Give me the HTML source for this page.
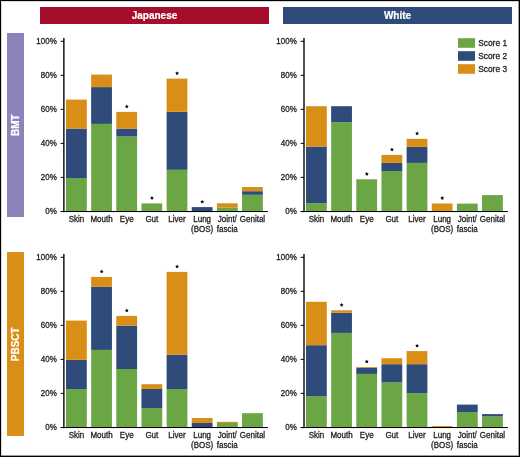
<!DOCTYPE html>
<html><head><meta charset="utf-8"><style>
html,body{margin:0;padding:0;background:#fff;}
#c{position:relative;will-change:transform;width:518px;height:455px;border:1px solid #000;background:#fff;overflow:hidden;box-shadow:inset 1px 1px 0 rgba(0,0,0,0.15),inset -1px -1px 0 rgba(0,0,0,0.38);}
svg{position:absolute;left:-1px;top:-1px;}
text{font-family:"Liberation Sans",sans-serif;}
.lb{font-size:8.6px;fill:#222;stroke:#222;stroke-width:0.3px;}
.lg{font-size:9px;fill:#222;stroke:#222;stroke-width:0.3px;}
.st{font-size:8px;fill:#000;}
.hd{font-size:10px;font-weight:bold;fill:#fff;stroke:#fff;stroke-width:0.2px;}
</style></head><body><div id="c"><svg width="520" height="457" viewBox="0 0 520 457">
<rect x="40.00" y="7.00" width="229.00" height="17.00" fill="#A50E2B"/>
<rect x="283.00" y="7.00" width="229.00" height="17.00" fill="#2E4B7A"/>
<text x="154.5" y="18.7" class="hd" text-anchor="middle">Japanese</text>
<text x="397.5" y="18.7" class="hd" text-anchor="middle">White</text>
<rect x="7.00" y="33.00" width="17.00" height="184.00" fill="#8B84B9"/>
<rect x="7.00" y="252.00" width="17.00" height="184.00" fill="#D98E17"/>
<text class="hd" text-anchor="middle" transform="translate(19.0,125.1) rotate(-90)">BMT</text>
<text class="hd" text-anchor="middle" transform="translate(19.0,344.3) rotate(-90)">PBSCT</text>
<rect x="66.00" y="178.10" width="20.80" height="33.30" fill="#6BA644"/>
<rect x="66.00" y="128.60" width="20.80" height="49.50" fill="#2E4B7A"/>
<rect x="66.00" y="99.60" width="20.80" height="29.00" fill="#D98E17"/>
<text transform="translate(76.40,221.70) scale(0.93,1)" text-anchor="middle" class="lb">Skin</text>
<rect x="91.15" y="123.90" width="20.80" height="87.50" fill="#6BA644"/>
<rect x="91.15" y="87.10" width="20.80" height="36.80" fill="#2E4B7A"/>
<rect x="91.15" y="74.60" width="20.80" height="12.50" fill="#D98E17"/>
<text transform="translate(101.55,221.70) scale(0.93,1)" text-anchor="middle" class="lb">Mouth</text>
<rect x="116.30" y="136.50" width="20.80" height="74.90" fill="#6BA644"/>
<rect x="116.30" y="128.60" width="20.80" height="7.90" fill="#2E4B7A"/>
<rect x="116.30" y="111.90" width="20.80" height="16.70" fill="#D98E17"/>
<polygon points="126.80,104.45 127.39,105.74 128.80,105.90 127.75,106.86 128.03,108.25 126.80,107.55 125.57,108.25 125.85,106.86 124.80,105.90 126.21,105.74" fill="#000"/>
<text transform="translate(126.70,221.70) scale(0.93,1)" text-anchor="middle" class="lb">Eye</text>
<rect x="141.45" y="203.40" width="20.80" height="8.00" fill="#6BA644"/>
<polygon points="151.95,195.95 152.54,197.24 153.95,197.40 152.90,198.36 153.18,199.75 151.95,199.05 150.72,199.75 151.00,198.36 149.95,197.40 151.36,197.24" fill="#000"/>
<text transform="translate(151.85,221.70) scale(0.93,1)" text-anchor="middle" class="lb">Gut</text>
<rect x="166.60" y="169.80" width="20.80" height="41.60" fill="#6BA644"/>
<rect x="166.60" y="111.80" width="20.80" height="58.00" fill="#2E4B7A"/>
<rect x="166.60" y="78.60" width="20.80" height="33.20" fill="#D98E17"/>
<polygon points="177.10,71.15 177.69,72.44 179.10,72.60 178.05,73.56 178.33,74.95 177.10,74.25 175.87,74.95 176.15,73.56 175.10,72.60 176.51,72.44" fill="#000"/>
<text transform="translate(177.00,221.70) scale(0.93,1)" text-anchor="middle" class="lb">Liver</text>
<rect x="191.75" y="207.10" width="20.80" height="4.30" fill="#2E4B7A"/>
<polygon points="202.25,199.65 202.84,200.94 204.25,201.10 203.20,202.06 203.48,203.45 202.25,202.75 201.02,203.45 201.30,202.06 200.25,201.10 201.66,200.94" fill="#000"/>
<text transform="translate(202.15,221.70) scale(0.93,1)" text-anchor="middle" class="lb">Lung</text>
<text transform="translate(202.15,231.80) scale(0.93,1)" text-anchor="middle" class="lb">(BOS)</text>
<rect x="216.90" y="207.40" width="20.80" height="4.00" fill="#6BA644"/>
<rect x="216.90" y="203.30" width="20.80" height="4.10" fill="#D98E17"/>
<text transform="translate(227.30,221.70) scale(0.93,1)" text-anchor="middle" class="lb">Joint/</text>
<text transform="translate(227.30,231.80) scale(0.93,1)" text-anchor="middle" class="lb">fascia</text>
<rect x="242.05" y="194.80" width="20.80" height="16.60" fill="#6BA644"/>
<rect x="242.05" y="191.20" width="20.80" height="3.60" fill="#2E4B7A"/>
<rect x="242.05" y="187.00" width="20.80" height="4.20" fill="#D98E17"/>
<text transform="translate(252.45,221.70) scale(0.93,1)" text-anchor="middle" class="lb">Genital</text>
<line x1="63.87" y1="38.10" x2="63.87" y2="211.90" stroke="#000" stroke-width="1.38"/>
<line x1="60.60" y1="211.50" x2="268.00" y2="211.50" stroke="#000" stroke-width="1.1"/>
<line x1="60.60" y1="212.60" x2="268.00" y2="212.60" stroke="#000" stroke-opacity="0.06" stroke-width="1"/>
<text transform="translate(56.80,214.20) scale(0.93,1)" text-anchor="end" class="lb">0%</text>
<line x1="60.60" y1="177.38" x2="64.00" y2="177.38" stroke="#000" stroke-width="1"/>
<text transform="translate(56.80,180.18) scale(0.93,1)" text-anchor="end" class="lb">20%</text>
<line x1="60.60" y1="143.36" x2="64.00" y2="143.36" stroke="#000" stroke-width="1"/>
<text transform="translate(56.80,146.16) scale(0.93,1)" text-anchor="end" class="lb">40%</text>
<line x1="60.60" y1="109.34" x2="64.00" y2="109.34" stroke="#000" stroke-width="1"/>
<text transform="translate(56.80,112.14) scale(0.93,1)" text-anchor="end" class="lb">60%</text>
<line x1="60.60" y1="75.32" x2="64.00" y2="75.32" stroke="#000" stroke-width="1"/>
<text transform="translate(56.80,78.12) scale(0.93,1)" text-anchor="end" class="lb">80%</text>
<line x1="60.60" y1="41.30" x2="64.00" y2="41.30" stroke="#000" stroke-width="1"/>
<text transform="translate(56.80,44.10) scale(0.93,1)" text-anchor="end" class="lb">100%</text>
<rect x="306.00" y="203.20" width="20.80" height="8.20" fill="#6BA644"/>
<rect x="306.00" y="146.60" width="20.80" height="56.60" fill="#2E4B7A"/>
<rect x="306.00" y="106.20" width="20.80" height="40.40" fill="#D98E17"/>
<text transform="translate(316.40,221.70) scale(0.93,1)" text-anchor="middle" class="lb">Skin</text>
<rect x="331.15" y="122.30" width="20.80" height="89.10" fill="#6BA644"/>
<rect x="331.15" y="106.20" width="20.80" height="16.10" fill="#2E4B7A"/>
<text transform="translate(341.55,221.70) scale(0.93,1)" text-anchor="middle" class="lb">Mouth</text>
<rect x="356.30" y="179.30" width="20.80" height="32.10" fill="#6BA644"/>
<polygon points="366.80,171.85 367.39,173.14 368.80,173.30 367.75,174.26 368.03,175.65 366.80,174.95 365.57,175.65 365.85,174.26 364.80,173.30 366.21,173.14" fill="#000"/>
<text transform="translate(366.70,221.70) scale(0.93,1)" text-anchor="middle" class="lb">Eye</text>
<rect x="381.45" y="171.00" width="20.80" height="40.40" fill="#6BA644"/>
<rect x="381.45" y="162.90" width="20.80" height="8.10" fill="#2E4B7A"/>
<rect x="381.45" y="154.90" width="20.80" height="8.00" fill="#D98E17"/>
<polygon points="391.95,147.45 392.54,148.74 393.95,148.90 392.90,149.86 393.18,151.25 391.95,150.55 390.72,151.25 391.00,149.86 389.95,148.90 391.36,148.74" fill="#000"/>
<text transform="translate(391.85,221.70) scale(0.93,1)" text-anchor="middle" class="lb">Gut</text>
<rect x="406.60" y="162.90" width="20.80" height="48.50" fill="#6BA644"/>
<rect x="406.60" y="146.90" width="20.80" height="16.00" fill="#2E4B7A"/>
<rect x="406.60" y="138.80" width="20.80" height="8.10" fill="#D98E17"/>
<polygon points="417.10,131.35 417.69,132.64 419.10,132.80 418.05,133.76 418.33,135.15 417.10,134.45 415.87,135.15 416.15,133.76 415.10,132.80 416.51,132.64" fill="#000"/>
<text transform="translate(417.00,221.70) scale(0.93,1)" text-anchor="middle" class="lb">Liver</text>
<rect x="431.75" y="203.50" width="20.80" height="7.90" fill="#D98E17"/>
<polygon points="442.25,196.05 442.84,197.34 444.25,197.50 443.20,198.46 443.48,199.85 442.25,199.15 441.02,199.85 441.30,198.46 440.25,197.50 441.66,197.34" fill="#000"/>
<text transform="translate(442.15,221.70) scale(0.93,1)" text-anchor="middle" class="lb">Lung</text>
<text transform="translate(442.15,231.80) scale(0.93,1)" text-anchor="middle" class="lb">(BOS)</text>
<rect x="456.90" y="203.60" width="20.80" height="7.80" fill="#6BA644"/>
<text transform="translate(467.30,221.70) scale(0.93,1)" text-anchor="middle" class="lb">Joint/</text>
<text transform="translate(467.30,231.80) scale(0.93,1)" text-anchor="middle" class="lb">fascia</text>
<rect x="482.05" y="195.10" width="20.80" height="16.30" fill="#6BA644"/>
<text transform="translate(492.45,221.70) scale(0.93,1)" text-anchor="middle" class="lb">Genital</text>
<line x1="304.00" y1="38.10" x2="304.00" y2="211.90" stroke="#000" stroke-width="1.38"/>
<line x1="300.60" y1="211.50" x2="508.00" y2="211.50" stroke="#000" stroke-width="1.1"/>
<line x1="300.60" y1="212.60" x2="508.00" y2="212.60" stroke="#000" stroke-opacity="0.06" stroke-width="1"/>
<text transform="translate(296.80,214.20) scale(0.93,1)" text-anchor="end" class="lb">0%</text>
<line x1="300.60" y1="177.38" x2="304.00" y2="177.38" stroke="#000" stroke-width="1"/>
<text transform="translate(296.80,180.18) scale(0.93,1)" text-anchor="end" class="lb">20%</text>
<line x1="300.60" y1="143.36" x2="304.00" y2="143.36" stroke="#000" stroke-width="1"/>
<text transform="translate(296.80,146.16) scale(0.93,1)" text-anchor="end" class="lb">40%</text>
<line x1="300.60" y1="109.34" x2="304.00" y2="109.34" stroke="#000" stroke-width="1"/>
<text transform="translate(296.80,112.14) scale(0.93,1)" text-anchor="end" class="lb">60%</text>
<line x1="300.60" y1="75.32" x2="304.00" y2="75.32" stroke="#000" stroke-width="1"/>
<text transform="translate(296.80,78.12) scale(0.93,1)" text-anchor="end" class="lb">80%</text>
<line x1="300.60" y1="41.30" x2="304.00" y2="41.30" stroke="#000" stroke-width="1"/>
<text transform="translate(296.80,44.10) scale(0.93,1)" text-anchor="end" class="lb">100%</text>
<rect x="66.00" y="389.00" width="20.80" height="38.40" fill="#6BA644"/>
<rect x="66.00" y="359.80" width="20.80" height="29.20" fill="#2E4B7A"/>
<rect x="66.00" y="320.60" width="20.80" height="39.20" fill="#D98E17"/>
<text transform="translate(76.40,437.70) scale(0.93,1)" text-anchor="middle" class="lb">Skin</text>
<rect x="91.15" y="349.90" width="20.80" height="77.50" fill="#6BA644"/>
<rect x="91.15" y="286.80" width="20.80" height="63.10" fill="#2E4B7A"/>
<rect x="91.15" y="276.90" width="20.80" height="9.90" fill="#D98E17"/>
<polygon points="101.65,269.45 102.24,270.74 103.65,270.90 102.60,271.86 102.88,273.25 101.65,272.55 100.42,273.25 100.70,271.86 99.65,270.90 101.06,270.74" fill="#000"/>
<text transform="translate(101.55,437.70) scale(0.93,1)" text-anchor="middle" class="lb">Mouth</text>
<rect x="116.30" y="369.00" width="20.80" height="58.40" fill="#6BA644"/>
<rect x="116.30" y="325.60" width="20.80" height="43.40" fill="#2E4B7A"/>
<rect x="116.30" y="315.90" width="20.80" height="9.70" fill="#D98E17"/>
<polygon points="126.80,308.45 127.39,309.74 128.80,309.90 127.75,310.86 128.03,312.25 126.80,311.55 125.57,312.25 125.85,310.86 124.80,309.90 126.21,309.74" fill="#000"/>
<text transform="translate(126.70,437.70) scale(0.93,1)" text-anchor="middle" class="lb">Eye</text>
<rect x="141.45" y="408.10" width="20.80" height="19.30" fill="#6BA644"/>
<rect x="141.45" y="389.00" width="20.80" height="19.10" fill="#2E4B7A"/>
<rect x="141.45" y="384.20" width="20.80" height="4.80" fill="#D98E17"/>
<text transform="translate(151.85,437.70) scale(0.93,1)" text-anchor="middle" class="lb">Gut</text>
<rect x="166.60" y="389.10" width="20.80" height="38.30" fill="#6BA644"/>
<rect x="166.60" y="354.70" width="20.80" height="34.40" fill="#2E4B7A"/>
<rect x="166.60" y="271.90" width="20.80" height="82.80" fill="#D98E17"/>
<polygon points="177.10,264.45 177.69,265.74 179.10,265.90 178.05,266.86 178.33,268.25 177.10,267.55 175.87,268.25 176.15,266.86 175.10,265.90 176.51,265.74" fill="#000"/>
<text transform="translate(177.00,437.70) scale(0.93,1)" text-anchor="middle" class="lb">Liver</text>
<rect x="191.75" y="423.00" width="20.80" height="4.40" fill="#2E4B7A"/>
<rect x="191.75" y="418.00" width="20.80" height="5.00" fill="#D98E17"/>
<text transform="translate(202.15,437.70) scale(0.93,1)" text-anchor="middle" class="lb">Lung</text>
<text transform="translate(202.15,447.80) scale(0.93,1)" text-anchor="middle" class="lb">(BOS)</text>
<rect x="216.90" y="423.00" width="20.80" height="4.40" fill="#6BA644"/>
<rect x="216.90" y="421.80" width="20.80" height="1.20" fill="#D98E17"/>
<text transform="translate(227.30,437.70) scale(0.93,1)" text-anchor="middle" class="lb">Joint/</text>
<text transform="translate(227.30,447.80) scale(0.93,1)" text-anchor="middle" class="lb">fascia</text>
<rect x="242.05" y="413.20" width="20.80" height="14.20" fill="#6BA644"/>
<text transform="translate(252.45,437.70) scale(0.93,1)" text-anchor="middle" class="lb">Genital</text>
<line x1="63.87" y1="254.10" x2="63.87" y2="427.90" stroke="#000" stroke-width="1.38"/>
<line x1="60.60" y1="427.50" x2="268.00" y2="427.50" stroke="#000" stroke-width="1.1"/>
<line x1="60.60" y1="428.60" x2="268.00" y2="428.60" stroke="#000" stroke-opacity="0.06" stroke-width="1"/>
<text transform="translate(56.80,430.20) scale(0.93,1)" text-anchor="end" class="lb">0%</text>
<line x1="60.60" y1="393.38" x2="64.00" y2="393.38" stroke="#000" stroke-width="1"/>
<text transform="translate(56.80,396.18) scale(0.93,1)" text-anchor="end" class="lb">20%</text>
<line x1="60.60" y1="359.36" x2="64.00" y2="359.36" stroke="#000" stroke-width="1"/>
<text transform="translate(56.80,362.16) scale(0.93,1)" text-anchor="end" class="lb">40%</text>
<line x1="60.60" y1="325.34" x2="64.00" y2="325.34" stroke="#000" stroke-width="1"/>
<text transform="translate(56.80,328.14) scale(0.93,1)" text-anchor="end" class="lb">60%</text>
<line x1="60.60" y1="291.32" x2="64.00" y2="291.32" stroke="#000" stroke-width="1"/>
<text transform="translate(56.80,294.12) scale(0.93,1)" text-anchor="end" class="lb">80%</text>
<line x1="60.60" y1="257.30" x2="64.00" y2="257.30" stroke="#000" stroke-width="1"/>
<text transform="translate(56.80,260.10) scale(0.93,1)" text-anchor="end" class="lb">100%</text>
<rect x="306.00" y="396.10" width="20.80" height="31.30" fill="#6BA644"/>
<rect x="306.00" y="345.20" width="20.80" height="50.90" fill="#2E4B7A"/>
<rect x="306.00" y="301.80" width="20.80" height="43.40" fill="#D98E17"/>
<text transform="translate(316.40,437.70) scale(0.93,1)" text-anchor="middle" class="lb">Skin</text>
<rect x="331.15" y="332.90" width="20.80" height="94.50" fill="#6BA644"/>
<rect x="331.15" y="312.80" width="20.80" height="20.10" fill="#2E4B7A"/>
<rect x="331.15" y="310.30" width="20.80" height="2.50" fill="#D98E17"/>
<polygon points="341.65,302.85 342.24,304.14 343.65,304.30 342.60,305.26 342.88,306.65 341.65,305.95 340.42,306.65 340.70,305.26 339.65,304.30 341.06,304.14" fill="#000"/>
<text transform="translate(341.55,437.70) scale(0.93,1)" text-anchor="middle" class="lb">Mouth</text>
<rect x="356.30" y="373.90" width="20.80" height="53.50" fill="#6BA644"/>
<rect x="356.30" y="367.90" width="20.80" height="6.00" fill="#2E4B7A"/>
<rect x="356.30" y="367.00" width="20.80" height="0.90" fill="#D98E17"/>
<polygon points="366.80,359.55 367.39,360.84 368.80,361.00 367.75,361.96 368.03,363.35 366.80,362.65 365.57,363.35 365.85,361.96 364.80,361.00 366.21,360.84" fill="#000"/>
<text transform="translate(366.70,437.70) scale(0.93,1)" text-anchor="middle" class="lb">Eye</text>
<rect x="381.45" y="382.40" width="20.80" height="45.00" fill="#6BA644"/>
<rect x="381.45" y="364.20" width="20.80" height="18.20" fill="#2E4B7A"/>
<rect x="381.45" y="358.20" width="20.80" height="6.00" fill="#D98E17"/>
<text transform="translate(391.85,437.70) scale(0.93,1)" text-anchor="middle" class="lb">Gut</text>
<rect x="406.60" y="393.20" width="20.80" height="34.20" fill="#6BA644"/>
<rect x="406.60" y="364.20" width="20.80" height="29.00" fill="#2E4B7A"/>
<rect x="406.60" y="351.10" width="20.80" height="13.10" fill="#D98E17"/>
<polygon points="417.10,343.65 417.69,344.94 419.10,345.10 418.05,346.06 418.33,347.45 417.10,346.75 415.87,347.45 416.15,346.06 415.10,345.10 416.51,344.94" fill="#000"/>
<text transform="translate(417.00,437.70) scale(0.93,1)" text-anchor="middle" class="lb">Liver</text>
<rect x="431.75" y="426.00" width="20.80" height="1.40" fill="#D98E17"/>
<text transform="translate(442.15,437.70) scale(0.93,1)" text-anchor="middle" class="lb">Lung</text>
<text transform="translate(442.15,447.80) scale(0.93,1)" text-anchor="middle" class="lb">(BOS)</text>
<rect x="456.90" y="412.10" width="20.80" height="15.30" fill="#6BA644"/>
<rect x="456.90" y="404.60" width="20.80" height="7.50" fill="#2E4B7A"/>
<text transform="translate(467.30,437.70) scale(0.93,1)" text-anchor="middle" class="lb">Joint/</text>
<text transform="translate(467.30,447.80) scale(0.93,1)" text-anchor="middle" class="lb">fascia</text>
<rect x="482.05" y="416.40" width="20.80" height="11.00" fill="#6BA644"/>
<rect x="482.05" y="414.10" width="20.80" height="2.30" fill="#2E4B7A"/>
<text transform="translate(492.45,437.70) scale(0.93,1)" text-anchor="middle" class="lb">Genital</text>
<line x1="304.00" y1="254.10" x2="304.00" y2="427.90" stroke="#000" stroke-width="1.38"/>
<line x1="300.60" y1="427.50" x2="508.00" y2="427.50" stroke="#000" stroke-width="1.1"/>
<line x1="300.60" y1="428.60" x2="508.00" y2="428.60" stroke="#000" stroke-opacity="0.06" stroke-width="1"/>
<text transform="translate(296.80,430.20) scale(0.93,1)" text-anchor="end" class="lb">0%</text>
<line x1="300.60" y1="393.38" x2="304.00" y2="393.38" stroke="#000" stroke-width="1"/>
<text transform="translate(296.80,396.18) scale(0.93,1)" text-anchor="end" class="lb">20%</text>
<line x1="300.60" y1="359.36" x2="304.00" y2="359.36" stroke="#000" stroke-width="1"/>
<text transform="translate(296.80,362.16) scale(0.93,1)" text-anchor="end" class="lb">40%</text>
<line x1="300.60" y1="325.34" x2="304.00" y2="325.34" stroke="#000" stroke-width="1"/>
<text transform="translate(296.80,328.14) scale(0.93,1)" text-anchor="end" class="lb">60%</text>
<line x1="300.60" y1="291.32" x2="304.00" y2="291.32" stroke="#000" stroke-width="1"/>
<text transform="translate(296.80,294.12) scale(0.93,1)" text-anchor="end" class="lb">80%</text>
<line x1="300.60" y1="257.30" x2="304.00" y2="257.30" stroke="#000" stroke-width="1"/>
<text transform="translate(296.80,260.10) scale(0.93,1)" text-anchor="end" class="lb">100%</text>
<rect x="458.00" y="38.20" width="17.00" height="9.60" fill="#6BA644"/>
<text transform="translate(478.20,45.90) scale(0.93,1)" text-anchor="start" class="lg">Score 1</text>
<rect x="458.00" y="51.20" width="17.00" height="9.60" fill="#2E4B7A"/>
<text transform="translate(478.20,58.90) scale(0.93,1)" text-anchor="start" class="lg">Score 2</text>
<rect x="458.00" y="64.20" width="17.00" height="9.60" fill="#D98E17"/>
<text transform="translate(478.20,71.90) scale(0.93,1)" text-anchor="start" class="lg">Score 3</text>
</svg></div></body></html>
